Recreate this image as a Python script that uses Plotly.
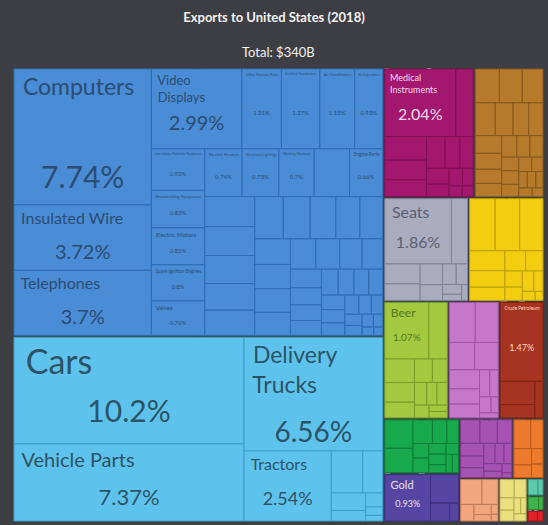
import plotly.graph_objects as go

# ---------------- data: share of total exports (%) ----------------
TITLE = "Exports to United States (2018)"
TOTAL = "Total: $340B"

machines_labels = ["Computers", "Insulated Wire", "Telephones", "Video Displays",
                   "Office Machine Parts", "Electrical Transformers", "Air Conditioners",
                   "Refrigerators", "Low-voltage Protection Equipment", "Broadcasting Equipment",
                   "Electric Motors", "Spark-Ignition Engines", "Valves", "Electric Heaters",
                   "Electrical Lighting", "Washing Machines", "Engine Parts"]
machines_values = [7.74, 3.72, 3.7, 2.99, 1.31, 1.27, 1.15, 0.93, 0.92, 0.83, 0.82, 0.8,
                   0.76, 0.74, 0.73, 0.7, 0.66,
                   0.7, 0.62, 0.6, 0.58, 0.55, 0.52, 0.5, 0.47, 0.45, 0.42, 0.4, 0.38, 0.36,
                   0.35, 0.34, 0.32, 0.3, 0.28, 0.26, 0.24, 0.22, 0.2, 0.19, 0.18, 0.17,
                   0.16, 0.15, 0.14, 0.13, 0.12, 0.11, 0.1, 0.09, 0.08, 0.07, 0.06, 0.05,
                   0.04, 0.03]

transport_labels = ["Cars", "Vehicle Parts", "Delivery Trucks", "Tractors"]
transport_values = [10.2, 7.37, 6.56, 2.54, 0.55, 0.35, 0.25, 0.15, 0.1, 0.06, 0.04]

instruments_labels = ["Medical Instruments"]
instruments_values = [2.04, 0.5, 0.42, 0.35, 0.3, 0.25, 0.2, 0.18, 0.15, 0.12, 0.1, 0.08,
                      0.06, 0.05]

metals_values = [0.35, 0.33, 0.3, 0.28, 0.25, 0.22, 0.2, 0.2, 0.18, 0.16, 0.15, 0.14,
                 0.12, 0.12, 0.1, 0.1, 0.09, 0.08, 0.07, 0.06, 0.06, 0.05, 0.05, 0.04]

misc_labels = ["Seats"]
misc_values = [1.86, 0.45, 0.3, 0.25, 0.2, 0.15, 0.12, 0.1, 0.08, 0.05, 0.04]

textiles_values = [0.57, 0.55, 0.52, 0.3, 0.25, 0.2, 0.18, 0.15, 0.12, 0.1, 0.1, 0.08,
                   0.05, 0.03]

food_labels = ["Beer"]
food_values = [1.07, 0.45, 0.3, 0.25, 0.2, 0.18, 0.15, 0.12, 0.1, 0.1, 0.08, 0.05, 0.05]

chemical_values = [0.45, 0.4, 0.3, 0.28, 0.25, 0.2, 0.18, 0.12, 0.1, 0.08, 0.05, 0.04]

mineral_labels = ["Crude Petroleum"]
mineral_values = [1.47, 0.35, 0.2, 0.13]

vegetable_values = [0.35, 0.3, 0.2, 0.15, 0.12, 0.1, 0.1, 0.08, 0.08, 0.06, 0.06, 0.05,
                    0.05]

precious_labels = ["Gold"]
precious_values = [0.93, 0.35, 0.15, 0.07]

plastics_values = [0.2, 0.18, 0.15, 0.13, 0.12, 0.1, 0.1, 0.08, 0.07, 0.06, 0.05, 0.04,
                   0.02]

animal_values = [0.22, 0.16, 0.13, 0.1, 0.08, 0.07]
stone_values = [0.24, 0.18, 0.1, 0.08, 0.05, 0.03, 0.02]
paper_values = [0.12, 0.1, 0.08, 0.07, 0.05, 0.04, 0.04]
hides_values = [0.08, 0.04]
weapons_values = [0.05, 0.03]
footwear_values = [0.07, 0.03]

SECTORS = [
    ("Machines", machines_labels, machines_values),
    ("Transportation", transport_labels, transport_values),
    ("Instruments", instruments_labels, instruments_values),
    ("Metals", [], metals_values),
    ("Miscellaneous", misc_labels, misc_values),
    ("Textiles", [], textiles_values),
    ("Foodstuffs", food_labels, food_values),
    ("Chemical Products", [], chemical_values),
    ("Mineral Products", mineral_labels, mineral_values),
    ("Vegetable Products", [], vegetable_values),
    ("Precious Metals", precious_labels, precious_values),
    ("Plastics and Rubbers", [], plastics_values),
    ("Animal Products", [], animal_values),
    ("Stone and Glass", [], stone_values),
    ("Paper Goods", [], paper_values),
    ("Animal Hides", [], hides_values),
    ("Weapons", [], weapons_values),
    ("Footwear and Headwear", [], footwear_values),
]

# ---------------- styles ----------------
BG = "#3d3e43"
FONT = "Lato"
STYLE = {  # fill, inner line, text colour
    "Machines": ("#4a8cd6", "#2f6db3", "#2b4d73"),
    "Transportation": ("#5ec3ec", "#3d9ec8", "#2c5366"),
    "Instruments": ("#a3186e", "#7e0f54", "#f5dcec"),
    "Metals": ("#b57a2b", "#88591c", "#3a2a10"),
    "Miscellaneous": ("#a8acbe", "#7f8396", "#5c6072"),
    "Textiles": ("#f2cd10", "#bf9f06", "#6b5a05"),
    "Foodstuffs": ("#a3c940", "#7c9c2a", "#58771c"),
    "Chemical Products": ("#c678c8", "#9c56a1", "#4a234c"),
    "Mineral Products": ("#a63421", "#7d2314", "#f6d9d0"),
    "Vegetable Products": ("#17a94b", "#0e7e36", "#0b3f1b"),
    "Precious Metals": ("#5645a2", "#3d2f80", "#e6e2f5"),
    "Plastics and Rubbers": ("#a552b3", "#7f3a8c", "#3d1a44"),
    "Animal Products": ("#ee7b2d", "#b85a1d", "#5a2a0a"),
    "Stone and Glass": ("#f1a67d", "#c07c58", "#5a3420"),
    "Paper Goods": ("#ebe07f", "#b9ad52", "#5a5020"),
    "Animal Hides": ("#5cc9aa", "#3a9c82", "#1c4a3c"),
    "Weapons": ("#e0232b", "#a8151b", "#ffffff"),
    "Footwear and Headwear": ("#3fb24c", "#2b8636", "#123a17"),
}
WRAP = {"Video Displays": "Video<br>Displays",
        "Delivery Trucks": "Delivery<br>Trucks",
        "Medical Instruments": "Medical<br>Instruments"}
LABEL_SIZE = {"Cars": 34, "Computers": 23, "Vehicle Parts": 20, "Delivery Trucks": 23,
              "Insulated Wire": 16, "Telephones": 16, "Video Displays": 13, "Tractors": 16,
              "Seats": 16, "Medical Instruments": 9, "Beer": 12, "Gold": 11,
              "Crude Petroleum": 8}
PCT_SIZE = {"Cars": 30, "Computers": 30, "Vehicle Parts": 22, "Delivery Trucks": 28,
            "Insulated Wire": 20, "Telephones": 20, "Video Displays": 20, "Tractors": 18,
            "Seats": 16, "Medical Instruments": 16, "Beer": 10, "Gold": 9,
            "Crude Petroleum": 9}
PCT_DROP = {"Computers": 2, "Delivery Trucks": 2}   # blank lines above the share
SMALL_LABEL, SMALL_PCT = 6, 6
NB = "\u00a0"

ids, labels, parents, values = [], [], [], []
colors, lcolors, lwidths = [], [], []
ltexts, ptexts, tcolors, lsizes, psizes = [], [], [], [], []


def add(i, lab, par, val, fill, lcol, lw, ltxt, ptxt, tcol, ls, ps):
    ids.append(i); labels.append(lab); parents.append(par); values.append(val)
    colors.append(fill); lcolors.append(lcol); lwidths.append(lw)
    ltexts.append(ltxt); ptexts.append(ptxt); tcolors.append(tcol)
    lsizes.append(ls); psizes.append(ps)


add("root", "", "", 0, BG, BG, 0, "", "", "#ffffff", 10, 10)
for sector, names, vals in SECTORS:
    fill, line, tcol = STYLE[sector]
    add(sector, sector, "root", 0, BG, BG, 1, "", "", tcol, 10, 10)
    for k, v in enumerate(vals):
        name = names[k] if k < len(names) else ""
        if name:
            ltxt = NB + WRAP.get(name, name).replace("<br>", "<br>" + NB)
            ptxt = (NB + "<br>") * PCT_DROP.get(name, 1) + f"{v:.3g}%"
        else:
            ltxt = ptxt = ""
        add(f"{sector}/{k}", name, sector, v, fill, line, 1, ltxt, ptxt, tcol,
            LABEL_SIZE.get(name, SMALL_LABEL), PCT_SIZE.get(name, SMALL_PCT))

common = dict(ids=ids, labels=labels, parents=parents, values=values,
              branchvalues="remainder", sort=True,
              tiling=dict(packing="squarify", squarifyratio=1.618, pad=0),
              pathbar=dict(visible=False), textinfo="text")

# tiles with product names (top left)
fig = go.Figure(go.Treemap(
    **common,
    text=ltexts, textposition="top left",
    textfont=dict(family=FONT, color=tcolors, size=lsizes),
    marker=dict(colors=colors, line=dict(color=lcolors, width=lwidths),
                pad=dict(t=1, l=1, r=1, b=1)),
    hoverinfo="label+value",
))
# share of total (centred in each tile)
fig.add_trace(go.Treemap(
    **common,
    text=ptexts, textposition="middle center",
    textfont=dict(family=FONT, color=tcolors, size=psizes),
    marker=dict(colors=["rgba(0,0,0,0)"] * len(ids),
                line=dict(color="rgba(0,0,0,0)", width=0),
                pad=dict(t=1, l=1, r=1, b=1)),
    hoverinfo="skip",
))

fig.update_layout(
    width=548, height=525,
    paper_bgcolor=BG, plot_bgcolor=BG,
    margin=dict(l=12, r=3, t=67, b=2),
    font=dict(family=FONT, color="#ffffff"),
    title=dict(text=f"<b>{TITLE}</b>", x=0.5, xanchor="center",
               y=1 - 17 / 525, yref="container", yanchor="middle",
               font=dict(size=13, color="#f2f2f2", family=FONT)),
    annotations=[dict(text=TOTAL, x=0.5, y=1, xref="paper", yref="paper",
                      yshift=15, yanchor="middle", showarrow=False,
                      font=dict(size=13, color="#f2f2f2", family=FONT))],
)

fig.write_html("out.html", config={"displayModeBar": False},
               post_script="document.body.style.margin='0';")
